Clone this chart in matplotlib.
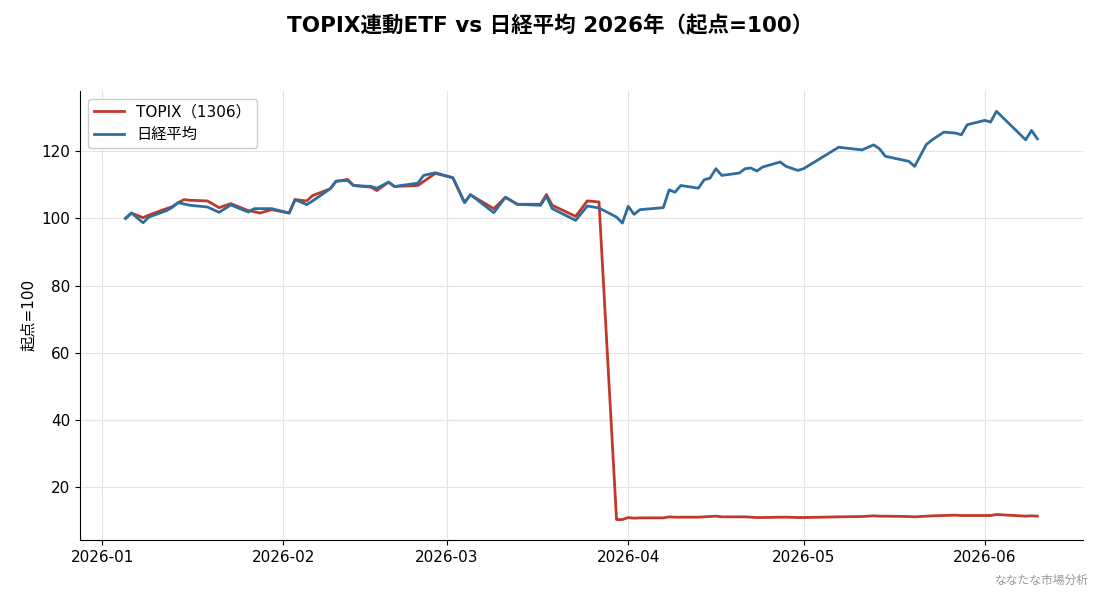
import matplotlib
matplotlib.use("Agg")
import matplotlib.pyplot as plt
import matplotlib.dates as mdates
import pandas as pd

# Latin glyphs from DejaVu, Japanese falls back to Noto CJK
plt.rcParams['font.family'] = ['DejaVu Sans', 'Noto Sans CJK JP']

# trading days
dates = [
    "2026-01-05", "2026-01-06", "2026-01-08", "2026-01-09", "2026-01-12", "2026-01-13",
    "2026-01-14", "2026-01-15", "2026-01-16", "2026-01-19", "2026-01-21", "2026-01-23",
    "2026-01-26", "2026-01-27", "2026-01-28", "2026-01-30", "2026-02-02", "2026-02-03",
    "2026-02-05", "2026-02-06", "2026-02-09", "2026-02-10", "2026-02-12", "2026-02-13",
    "2026-02-16", "2026-02-17", "2026-02-19", "2026-02-20", "2026-02-24", "2026-02-25",
    "2026-02-27", "2026-03-02", "2026-03-04", "2026-03-05", "2026-03-09", "2026-03-11",
    "2026-03-13", "2026-03-17", "2026-03-18", "2026-03-19", "2026-03-23", "2026-03-25",
    "2026-03-27", "2026-03-30", "2026-03-31", "2026-04-01", "2026-04-02", "2026-04-03",
    "2026-04-07", "2026-04-08", "2026-04-09", "2026-04-10", "2026-04-13", "2026-04-14",
    "2026-04-15", "2026-04-16", "2026-04-17", "2026-04-20", "2026-04-21", "2026-04-22",
    "2026-04-23", "2026-04-24", "2026-04-27", "2026-04-28", "2026-04-30", "2026-05-01",
    "2026-05-07", "2026-05-11", "2026-05-13", "2026-05-14", "2026-05-15", "2026-05-19",
    "2026-05-20", "2026-05-22", "2026-05-23", "2026-05-25", "2026-05-27", "2026-05-28",
    "2026-05-29", "2026-06-01", "2026-06-02", "2026-06-03", "2026-06-08", "2026-06-09",
    "2026-06-10",
]

topix = [
    100.0, 101.6, 100.2, 101.0, 102.9, 103.5,
    104.7, 105.6, 105.4, 105.2, 103.2, 104.4,
    102.3, 102.0, 101.6, 102.6, 101.6, 105.6,
    105.2, 106.8, 108.8, 111.0, 111.6, 109.8,
    109.3, 108.3, 110.8, 109.5, 109.8, 111.0,
    113.4, 112.1, 104.7, 107.0, 102.9, 106.3,
    104.2, 104.2, 107.1, 103.9, 100.6, 105.2,
    104.9, 10.3, 10.3, 10.9, 10.7, 10.8,
    10.8, 11.1, 11.0, 11.0, 11.0, 11.1,
    11.2, 11.3, 11.1, 11.1, 11.1, 11.0,
    10.9, 10.9, 11.0, 11.0, 10.9, 10.9,
    11.1, 11.2, 11.4, 11.3, 11.3, 11.2,
    11.1, 11.3, 11.4, 11.5, 11.6, 11.5,
    11.5, 11.5, 11.5, 11.8, 11.3, 11.4,
    11.3,
]

nikkei = [
    100.0, 101.6, 98.7, 100.4, 102.3, 103.3,
    104.7, 104.3, 103.9, 103.4, 101.8, 104.0,
    101.9, 102.9, 102.9, 102.9, 101.6, 105.6,
    104.1, 105.2, 108.8, 111.1, 111.3, 109.8,
    109.5, 109.0, 110.8, 109.5, 110.5, 112.8,
    113.6, 112.1, 104.7, 107.1, 101.7, 106.3,
    104.2, 103.9, 106.6, 102.9, 99.4, 103.7,
    103.1, 100.4, 98.6, 103.6, 101.2, 102.6,
    103.2, 108.5, 107.8, 109.8, 109.0, 111.5,
    112.0, 114.8, 112.8, 113.5, 114.8, 115.0,
    114.1, 115.3, 116.8, 115.5, 114.3, 114.8,
    121.2, 120.4, 121.9, 120.7, 118.5, 117.0,
    115.5, 122.0, 123.4, 125.7, 125.4, 124.9,
    127.9, 129.2, 128.7, 131.9, 123.4, 126.2,
    123.7,
]

x = pd.to_datetime(dates)

fig, ax = plt.subplots(figsize=(11, 5.94), dpi=100)
fig.subplots_adjust(left=0.0727, right=0.9845, bottom=0.091, top=0.847)

ax.plot(x, topix, color='#c0392b', lw=2, label='TOPIX（1306）')
ax.plot(x, nikkei, color='#2e6e9e', lw=2, label='日経平均')

ax.xaxis.set_major_locator(mdates.MonthLocator())
ax.xaxis.set_major_formatter(mdates.DateFormatter('%Y-%m'))
ax.set_yticks([20, 40, 60, 80, 100, 120])
ax.tick_params(labelsize=11)

ax.set_ylabel('起点=100', fontsize=11)
ax.grid(True, color='#e3e3e3', lw=0.8)
ax.spines['top'].set_visible(False)
ax.spines['right'].set_visible(False)

ax.legend(loc='upper left', fontsize=11, framealpha=1, edgecolor='#cccccc')

fig.suptitle('TOPIX連動ETF vs 日経平均 2026年（起点=100）', fontsize=15.5,
             fontweight='bold', y=0.975)
fig.text(0.99, 0.012, 'ななたな市場分析', ha='right', va='bottom',
         fontsize=8.5, color='#999999')

fig.savefig('out.png', dpi=100)
